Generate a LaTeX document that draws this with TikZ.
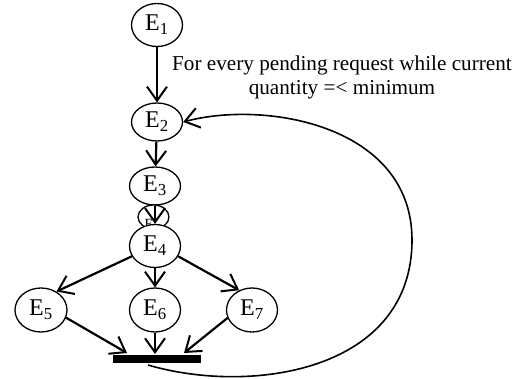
\documentclass[tikz,border=0pt]{standalone}
\usepackage{fontspec}
\setmainfont{Liberation Serif}
\usetikzlibrary{shapes.geometric,arrows.meta}

\begin{document}
\begin{tikzpicture}[x=1pt,y=-1pt,
    event/.style={ellipse,draw,fill=white,line width=1.3pt,inner sep=0pt,minimum width=51pt,minimum height=38pt,font=\fontsize{24}{28}\selectfont},
    flow/.style={-{Straight Barb[length=14pt,width=20pt,line width=2pt]},line width=2.2pt}]
    \useasboundingbox (0,0) rectangle (522,379);
    \node[event,minimum height=43pt] (e1) at (157,25) {E\textsubscript{1}};
    \node[event] (e2) at (157,122) {E\textsubscript{2}};
    \node[event] (e3) at (155,186) {E\textsubscript{3}};
    \node[event,minimum width=31pt,minimum height=24pt,label={[font=\fontsize{14}{16}\selectfont,xshift=-4.5pt,yshift=-7pt]center:E}] (e4a) at (153.5,217) {};
    \node[event,minimum height=43pt] (e4) at (155,246) {E\textsubscript{4}};
    \node[event,minimum width=52pt,minimum height=44pt] (e5) at (41,310) {E\textsubscript{5}};
    \node[event,minimum height=44pt] (e6) at (155,310) {E\textsubscript{6}};
    \node[event,minimum height=44pt] (e7) at (252,310) {E\textsubscript{7}};
    \node[fill=black,minimum width=88pt,minimum height=8pt,inner sep=0pt] (bar) at (157,359) {};
    \node[font=\fontsize{21.2}{24}\selectfont,align=center] (cond) at (342,77) {For every pending request while current\\quantity =< minimum};
    \coordinate (in5) at (127,353);
    \coordinate (in6) at (155,354);
    \coordinate (in7) at (184,353);
    \coordinate (loop) at (148,365);
    \path[flow]
    (e1) edge (e2)
    (e2) edge (e3)
    (e3) edge (e4)
    (e4.204) edge (e5.50)
    (e4) edge (e6)
    (e4.-24) edge (e7.123)
    (e5.-17) edge (in5)
    (e6) edge (in6)
    (e7.198) edge (in7);
    \draw[flow,line width=1.6pt] (loop) .. controls (250,395) and (412,372) .. (412,240)
        .. controls (412,125) and (265,100) .. (e2.east);
\end{tikzpicture}
\end{document}
